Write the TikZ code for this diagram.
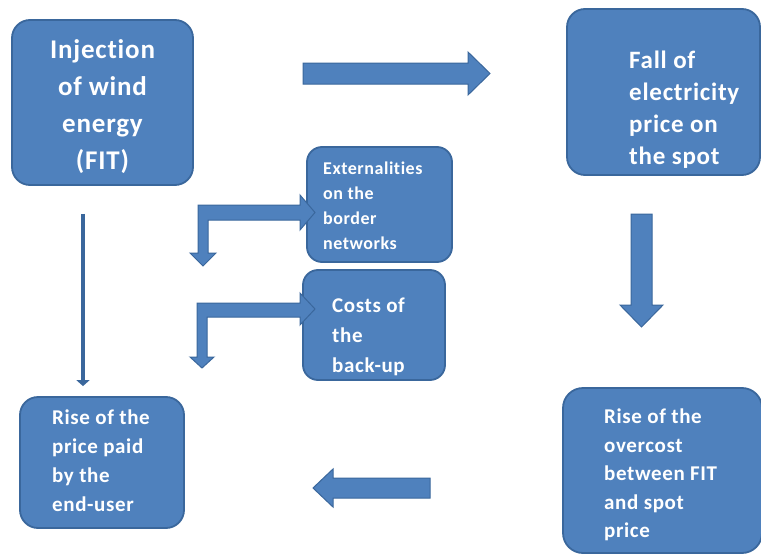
\documentclass[tikz,border=0pt]{standalone}
\usepackage{fontspec}
\setmainfont{Carlito}[Ligatures=NoCommon]
\usetikzlibrary{arrows.meta,calc}
\definecolor{boxfill}{HTML}{4F81BD}
\definecolor{boxline}{HTML}{3A679C}
\begin{document}
\begin{tikzpicture}[x=1pt,y=-1pt,
  box/.style={draw=boxline, line width=1.8pt, fill=boxfill, rounded corners=18pt, inner sep=0pt},
  txt/.style 2 args={text=white, inner sep=0pt, font=\bfseries\addfontfeature{LetterSpace=3}\fontsize{#1}{#2}\selectfont},
  barrow/.style={draw=boxline, line width=1pt, fill=boxfill, line join=miter},
  thinarr/.style={draw=boxline, line width=4.5pt, -{Triangle[width=13pt,length=6pt]}}
]
\fill[white] (0,0) rectangle (761,554);
\useasboundingbox (0,0) rectangle (761,554);

% boxes
\node[box, minimum width=181pt, minimum height=165pt] (b1) at (102.5,102.5) {};
\node[box, minimum width=193pt, minimum height=166pt] (b2) at (663.5,92) {};
\node[box, rounded corners=15pt, minimum width=145pt, minimum height=115pt] (b3) at (379.5,204.5) {};
\node[box, rounded corners=15pt, minimum width=142pt, minimum height=110pt] (b4) at (374,325) {};
\node[box, minimum width=164pt, minimum height=131pt] (b5) at (102,462.5) {};
\node[box, rounded corners=20pt, minimum width=199pt, minimum height=165pt] (b6) at (662.5,470.5) {};

% texts
\node[txt={27}{37}, align=center] (t1) at (102.5,107) {Injection\\of wind\\energy\\(FIT)};
\node[txt={25}{32}, align=left, anchor=west] (t2) at (629,110) {Fall of\\electricity\\price on\\the spot};
\node[txt={18}{25}, align=left, anchor=west] (t3) at (323,205.5) {Externalities\\on the\\border\\networks};
\node[txt={21}{30}, align=left, anchor=west] (t4) at (332,337) {Costs of\\the\\back-up};
\node[txt={21}{29}, align=left, anchor=west] (t5) at (52,461) {Rise of the\\price paid\\by the\\end-user};
\node[txt={21}{28.5}, align=left, anchor=west] (t6) at (604,475) {Rise of the\\overcost\\between FIT\\and spot\\price};

% block arrows
\draw[barrow] (303,63) -- (468,63) -- (468,52) -- (490,73.5) -- (468,95) -- (468,84) -- (303,84) -- cycle;
\draw[barrow] (631,214) -- (652,214) -- (652,305) -- (663,305) -- (641.5,327) -- (620,305) -- (631,305) -- cycle;
\draw[barrow] (430,478) -- (333,478) -- (333,469) -- (313,488) -- (333,507) -- (333,498) -- (430,498) -- cycle;
\draw[barrow] (198,205) -- (300,205) -- (300,195) -- (315,212.5) -- (300,230) -- (300,220) -- (208,220) -- (208,253) -- (216,253) -- (203,266) -- (190,253) -- (198,253) -- cycle;
\draw[barrow] (197,303) -- (300,303) -- (300,293) -- (315,309) -- (300,325) -- (300,317) -- (207,317) -- (207,357) -- (214,357) -- (202,368) -- (190,357) -- (197,357) -- cycle;

% thin arrow
\draw[thinarr, shorten <=28pt, shorten >=10pt] ([xshift=-19.5pt]b1.south) -- ([xshift=-19.5pt]b1.south |- b5.north);
\end{tikzpicture}
\end{document}
